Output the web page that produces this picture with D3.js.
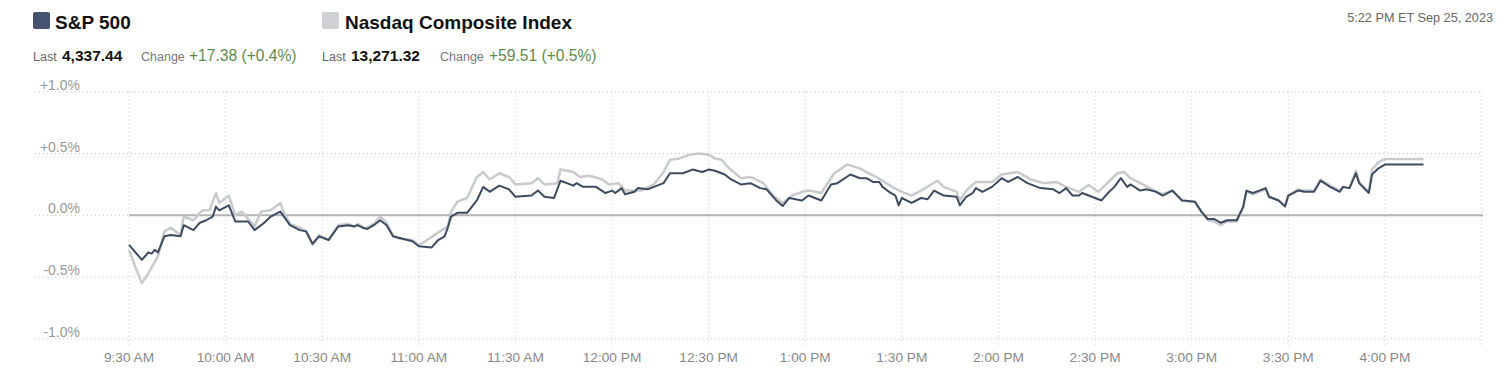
<!DOCTYPE html>
<html>
<head>
<meta charset="utf-8">
<script src="https://cdn.jsdelivr.net/npm/d3@7"></script>
<style>
  body { margin: 0; background: #fff; }
  svg { display: block; font-family: "Liberation Sans", Arial, sans-serif; }
</style>
</head>
<body>
<div class="chart"></div>
<script>
// intraday % change, Sep 25 2023
var spTimes = ["9:30","9:31","9:34","9:36","9:37","9:38","9:39","9:41","9:43","9:46","9:47","9:50","9:52","9:54","9:56","9:57","9:58","10:01","10:03","10:07","10:09","10:12","10:14","10:17","10:20","10:23","10:25","10:27","10:29","10:32","10:35","10:38","10:40","10:41","10:43","10:44","10:46","10:48","10:50","10:52","10:58","11:00","11:04","11:06","11:08","11:09","11:10","11:12","11:15","11:18","11:20","11:22","11:25","11:28","11:30","11:35","11:37","11:39","11:42","11:44","11:48","11:49","11:51","11:55","11:58","12:00","12:01","12:03","12:04","12:07","12:08","12:11","12:14","12:16","12:18","12:22","12:25","12:28","12:30","12:32","12:35","12:37","12:40","12:43","12:46","12:48","12:51","12:53","12:55","12:59","13:01","13:05","13:08","13:10","13:14","13:17","13:19","13:21","13:23","13:24","13:26","13:28","13:29","13:30","13:33","13:36","13:38","13:40","13:43","13:47","13:48","13:50","13:52","13:53","13:55","13:58","14:01","14:03","14:06","14:09","14:11","14:13","14:17","14:19","14:21","14:23","14:25","14:26","14:28","14:32","14:34","14:36","14:38","14:40","14:41","14:44","14:46","14:49","14:51","14:54","14:57","15:01","15:03","15:05","15:07","15:09","15:11","15:14","15:16","15:17","15:19","15:21","15:23","15:24","15:27","15:29","15:30","15:33","15:35","15:38","15:40","15:43","15:46","15:47","15:49","15:51","15:52","15:55","15:56","15:58","16:00","16:12"];
var spValues = [-0.24,-0.27,-0.36,-0.30,-0.31,-0.28,-0.30,-0.17,-0.16,-0.17,-0.08,-0.12,-0.06,-0.04,-0.01,0.07,0.04,0.08,-0.05,-0.05,-0.12,-0.06,-0.01,0.03,-0.08,-0.12,-0.13,-0.23,-0.17,-0.20,-0.09,-0.08,-0.09,-0.08,-0.105,-0.11,-0.08,-0.04,-0.08,-0.17,-0.21,-0.25,-0.26,-0.20,-0.17,-0.10,-0.01,0.02,0.02,0.12,0.23,0.19,0.24,0.21,0.15,0.16,0.20,0.15,0.14,0.28,0.24,0.26,0.23,0.23,0.18,0.20,0.18,0.22,0.17,0.19,0.22,0.21,0.24,0.26,0.34,0.34,0.37,0.35,0.37,0.36,0.33,0.29,0.25,0.26,0.22,0.21,0.12,0.075,0.14,0.12,0.16,0.12,0.25,0.26,0.33,0.30,0.30,0.27,0.27,0.23,0.19,0.16,0.08,0.14,0.10,0.14,0.13,0.20,0.16,0.15,0.08,0.15,0.18,0.22,0.19,0.23,0.30,0.27,0.31,0.26,0.24,0.22,0.21,0.18,0.22,0.16,0.16,0.18,0.16,0.12,0.18,0.23,0.30,0.23,0.25,0.20,0.21,0.19,0.16,0.20,0.12,0.11,0.03,-0.03,-0.03,-0.06,-0.04,-0.04,0.07,0.20,0.18,0.20,0.22,0.15,0.12,0.07,0.16,0.20,0.19,0.19,0.28,0.23,0.19,0.23,0.22,0.34,0.26,0.18,0.33,0.38,0.41,0.41];

var ndTimes = ["9:30","9:32","9:34","9:36","9:39","9:41","9:43","9:46","9:47","9:50","9:52","9:53","9:55","9:57","9:58","10:01","10:03","10:05","10:09","10:11","10:14","10:17","10:18","10:20","10:23","10:25","10:27","10:29","10:32","10:35","10:38","10:40","10:41","10:43","10:44","10:46","10:48","10:50","10:52","10:54","10:58","11:00","11:02","11:06","11:09","11:10","11:12","11:15","11:18","11:20","11:22","11:25","11:28","11:30","11:35","11:37","11:39","11:43","11:44","11:48","11:50","11:53","11:57","11:59","12:02","12:04","12:09","12:13","12:16","12:18","12:21","12:24","12:27","12:30","12:32","12:34","12:36","12:40","12:43","12:47","12:50","12:53","12:56","12:59","13:01","13:05","13:09","13:13","13:17","13:19","13:22","13:27","13:30","13:33","13:36","13:41","13:43","13:47","13:48","13:50","13:53","13:58","14:01","14:06","14:10","14:14","14:18","14:21","14:25","14:28","14:31","14:37","14:39","14:41","14:44","14:47","14:49","14:51","14:54","14:57","15:01","15:03","15:05","15:07","15:09","15:11","15:14","15:16","15:17","15:19","15:21","15:23","15:24","15:27","15:29","15:30","15:33","15:35","15:38","15:40","15:43","15:46","15:47","15:49","15:51","15:52","15:55","15:56","15:58","16:00","16:12"];
var ndValues = [-0.28,-0.42,-0.55,-0.47,-0.33,-0.13,-0.10,-0.16,-0.01,-0.04,0.02,0.04,0.04,0.18,0.10,0.16,0.0,0.03,-0.09,0.03,0.04,0.10,0.03,-0.07,-0.10,-0.13,-0.24,-0.16,-0.20,-0.08,-0.07,-0.09,-0.07,-0.10,-0.10,-0.07,-0.01,-0.06,-0.17,-0.19,-0.20,-0.24,-0.21,-0.14,-0.09,0.03,0.11,0.14,0.31,0.35,0.29,0.34,0.31,0.25,0.26,0.30,0.25,0.26,0.37,0.35,0.31,0.32,0.29,0.25,0.26,0.20,0.20,0.25,0.35,0.45,0.46,0.49,0.50,0.49,0.46,0.45,0.39,0.30,0.31,0.26,0.16,0.10,0.16,0.19,0.20,0.18,0.34,0.41,0.38,0.35,0.31,0.23,0.19,0.16,0.20,0.28,0.23,0.19,0.12,0.20,0.27,0.27,0.33,0.35,0.29,0.26,0.27,0.23,0.19,0.245,0.19,0.34,0.35,0.30,0.26,0.22,0.19,0.17,0.20,0.12,0.11,0.03,-0.04,-0.05,-0.08,-0.05,-0.05,0.06,0.19,0.17,0.19,0.21,0.15,0.12,0.08,0.16,0.21,0.20,0.20,0.29,0.24,0.20,0.23,0.22,0.36,0.27,0.19,0.37,0.43,0.455,0.455];

var yTicks = [1, 0.5, 0, -0.5, -1];
var yTickLabels = ["+1.0%", "+0.5%", "0.0%", "-0.5%", "-1.0%"];
var xTicks = ["9:30","10:00","10:30","11:00","11:30","12:00","12:30","13:00","13:30","14:00","14:30","15:00","15:30","16:00"];

var parseTime = d3.timeParse("%H:%M");

var width = 1510, height = 376;

var svg = d3.select(".chart").append("svg")
    .attr("width", width)
    .attr("height", height)

var x = d3.scaleTime()
    .domain([parseTime("9:30"), parseTime("16:30")])
    .range([129, 1481.5]);

var y = d3.scaleLinear()
    .domain([-1, 1])
    .range([338.9, 91.7]);

// header
svg.append("rect").attr("x", 33).attr("y", 12).attr("width", 17).attr("height", 17)
    .attr("rx", 2).attr("fill", "#45536e");
svg.append("text").attr("x", 55).attr("y", 29).attr("font-size", 19).attr("font-weight", "bold")
    .attr("fill", "#121212").text("S&P 500");
svg.append("rect").attr("x", 322).attr("y", 12).attr("width", 17).attr("height", 17)
    .attr("rx", 2).attr("fill", "#cfd0d3");
svg.append("text").attr("x", 345).attr("y", 29).attr("font-size", 19).attr("font-weight", "bold")
    .attr("fill", "#121212").text("Nasdaq Composite Index");

function statLine(xs, last, change) {
    svg.append("text").attr("x", xs[0]).attr("y", 61).attr("font-size", 12.5)
        .attr("fill", "#666").text("Last");
    svg.append("text").attr("x", xs[1]).attr("y", 61).attr("font-size", 15.5)
        .attr("font-weight", "bold").attr("fill", "#121212").text(last);
    svg.append("text").attr("x", xs[2]).attr("y", 61).attr("font-size", 12.5)
        .attr("fill", "#777").text("Change");
    svg.append("text").attr("x", xs[3]).attr("y", 61).attr("font-size", 15.6)
        .attr("fill", "#5f8a4f").text(change);
}
statLine([33, 62, 141, 189], "4,337.44", "+17.38 (+0.4%)");
statLine([322, 351, 440, 489], "13,271.32", "+59.51 (+0.5%)");

svg.append("text").attr("x", 1493).attr("y", 22).attr("text-anchor", "end")
    .attr("font-size", 12.7).attr("fill", "#666").text("5:22 PM ET Sep 25, 2023");

// grid
svg.selectAll(".hgrid")
    .data(yTicks)
    .enter()
    .append("line")
    .attr("x1", 35)
    .attr("x2", 1483)
    .attr("y1", function (d) { return y(d); })
    .attr("y2", function (d) { return y(d); })
    .attr("stroke", "#c8c8c8")
    .attr("stroke-dasharray", "1,3");

svg.selectAll(".vgrid")
    .data(xTicks.concat(["16:30"]))
    .enter()
    .append("line")
    .attr("x1", function (d) { return x(parseTime(d)); })
    .attr("x2", function (d) { return x(parseTime(d)); })
    .attr("y1", y(1))
    .attr("y2", y(-1) + 6)
    .attr("stroke", "#c8c8c8")
    .attr("stroke-dasharray", "1,3");

svg.selectAll(".ylab")
    .data(yTicks)
    .enter()
    .append("text")
    .attr("x", 80)
    .attr("y", function (d) { return y(d) - 2; })
    .attr("text-anchor", "end")
    .attr("font-size", 14)
    .attr("fill", "#999")
    .text(function (d, i) { return yTickLabels[i]; });

var fmt = d3.timeFormat("%-I:%M %p");
svg.selectAll(".xlab")
    .data(xTicks)
    .enter()
    .append("text")
    .attr("x", function (d) { return x(parseTime(d)); })
    .attr("y", 362)
    .attr("text-anchor", "middle")
    .attr("font-size", 13.7)
    .attr("fill", "#888")
    .text(function (d) { return fmt(parseTime(d)); });

// zero line
svg.append("line")
    .attr("x1", x(parseTime("9:30")))
    .attr("x2", 1483)
    .attr("y1", y(0))
    .attr("y2", y(0))
    .attr("stroke", "#b3b3b3")
    .attr("stroke-width", 2);

var line = d3.line()
    .x(function (d) { return x(parseTime(d[0])); })
    .y(function (d) { return y(d[1]); });

svg.append("path")
    .attr("d", line(d3.zip(ndTimes, ndValues)))
    .attr("fill", "none")
    .attr("stroke", "#c8cacd")
    .attr("stroke-width", 2.5)
    .attr("stroke-linejoin", "round");

svg.append("path")
    .attr("d", line(d3.zip(spTimes, spValues)))
    .attr("fill", "none")
    .attr("stroke", "#3e4a60")
    .attr("stroke-width", 2)
    .attr("stroke-linejoin", "round");
</script>
</body>
</html>
